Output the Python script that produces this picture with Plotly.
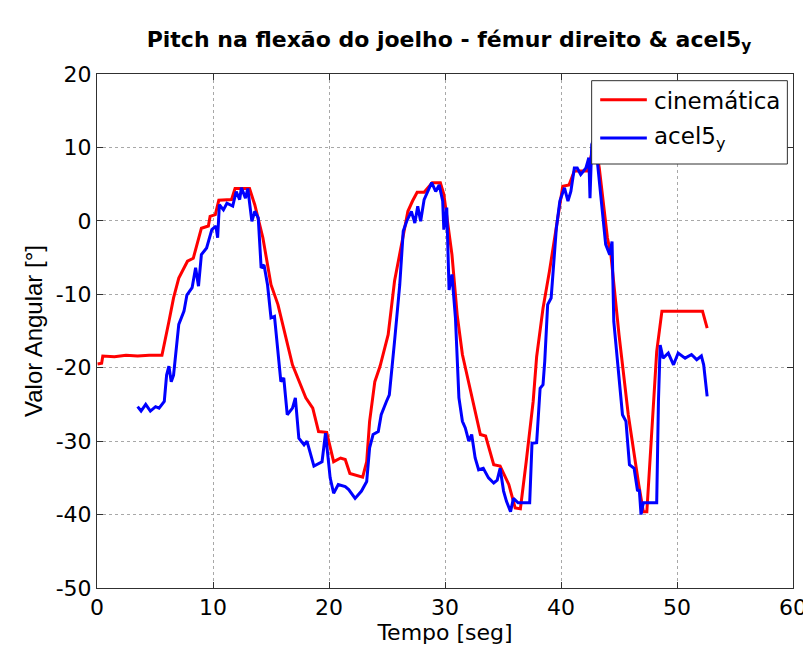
import plotly.graph_objects as go

# cinemática (red)
cin_t = [0.05, 0.4, 0.5, 1.5, 2.5, 3.5, 4.5, 5.6, 6.2, 6.6, 7.05, 7.6, 7.8, 8.3, 9.0, 9.6, 9.75,
         10.2, 10.5, 11.6, 11.9, 13.15, 13.6, 14.3, 15.0, 15.6, 16.4, 16.85, 18.0, 18.6, 19.1,
         19.8, 20.4, 21.0, 21.4, 21.8, 22.9, 23.25, 23.5, 23.95, 24.4, 25.1, 25.65, 26.1, 26.8,
         27.2, 27.6, 28.2, 28.9, 29.6, 29.9, 30.6, 31.05, 31.5, 32.8, 33.05, 33.5, 34.2, 34.75,
         35.5, 36.05, 36.5, 37.0, 37.6, 37.9, 38.45, 39.0, 39.6, 40.15, 40.7, 41.15, 42.3, 42.7,
         43.0, 43.3, 44.0, 44.3, 45.0, 45.8, 46.7, 47.1, 47.4, 47.8, 48.25, 48.7, 52.2, 52.6]
cin_v = [-19.5, -19.4, -18.4, -18.5, -18.3, -18.4, -18.3, -18.3, -13.7, -10.5, -7.8, -6.2, -5.5,
         -5.1, -1.0, -0.7, 0.6, 0.85, 2.8, 2.9, 4.4, 4.4, 2.2, -2.3, -8.7, -11.4, -16.4, -19.6,
         -24.1, -25.5, -28.7, -28.8, -32.8, -32.3, -32.5, -34.4, -34.9, -32.8, -27.3, -21.9,
         -19.8, -15.5, -8.2, -4.6, 1.3, 2.7, 3.9, 3.9, 5.2, 5.2, 3.6, -4.6, -12.8, -18.2, -27.3,
         -29.1, -29.3, -33.2, -33.4, -35.9, -39.1, -39.2, -32.8, -24.6, -18.5, -11.9, -6.9, -1.0,
         4.7, 4.9, 6.8, 6.8, 9.5, 10.0, 7.2, -2.3, -4.6, -15.5, -26.4, -35.9, -39.6, -39.6,
         -29.1, -17.8, -12.3, -12.3, -14.6]

# acel5_y (blue)
acel_t = [3.5, 3.8, 4.2, 4.6, 5.05, 5.35, 5.8, 6.0, 6.2, 6.4, 6.6, 7.05, 7.5, 7.75, 8.2, 8.5, 8.75,
          9.0, 9.45, 9.9, 10.25, 10.4, 10.55, 10.9, 11.2, 11.7, 12.0, 12.3, 12.45, 12.8, 13.0,
          13.35, 13.6, 13.9, 14.15, 14.4, 14.7, 15.0, 15.3, 15.85, 16.1, 16.4, 16.85, 17.1, 17.4,
          17.85, 18.1, 18.7, 19.4, 19.7, 20.1, 20.4, 20.8, 21.4, 21.7, 22.25, 22.8, 23.25, 23.5,
          23.8, 24.25, 24.5, 24.95, 25.2, 25.65, 26.1, 26.4, 26.7, 27.1, 27.4, 27.65, 27.9, 28.2,
          28.5, 28.85, 29.2, 29.5, 29.8, 29.9, 30.15, 30.35, 30.6, 30.9, 31.2, 31.5, 31.75, 32.05,
          32.3, 32.6, 32.9, 33.3, 33.75, 34.2, 34.5, 34.75, 35.05, 35.3, 35.65, 35.9, 36.3, 37.3,
          37.5, 37.9, 38.2, 38.45, 38.6, 38.85, 39.15, 39.6, 39.9, 40.3, 40.6, 40.85, 41.15, 41.4,
          41.7, 42.15, 42.4, 42.5, 42.65, 42.9, 43.1, 43.55, 43.85, 44.2, 44.4, 44.55, 45.0, 45.3,
          45.6, 45.9, 46.3, 46.6, 46.75, 46.9, 47.1, 48.25, 48.4, 48.55, 48.8, 49.25, 49.7, 50.1,
          50.7, 51.25, 51.7, 52.1, 52.3, 52.6]
acel_v = [-25.3, -25.9, -25.0, -25.9, -25.3, -25.5, -24.6, -21.0, -19.8, -21.9, -21.0, -14.1,
          -12.3, -10.1, -9.1, -6.4, -8.9, -4.6, -3.7, -1.2, -0.7, -2.3, 2.2, 1.5, 2.4, 2.0, 4.0,
          2.9, 4.5, 3.1, 4.4, -0.05, 1.3, 0.4, -6.4, -6.0, -8.7, -13.2, -13.0, -21.9, -21.4,
          -26.4, -25.5, -24.1, -29.6, -30.5, -30.0, -33.4, -32.8, -28.9, -35.0, -37.1, -35.9,
          -36.2, -36.6, -37.8, -36.8, -35.5, -30.9, -29.1, -28.7, -26.4, -24.6, -23.7, -16.4,
          -8.7, -1.4, -0.05, 1.3, -0.3, 2.0, -0.05, 2.9, 4.0, 5.2, 4.0, 4.9, 2.7, -1.2, 1.8,
          -9.4, -7.3, -13.2, -24.1, -27.3, -28.2, -30.0, -29.1, -32.3, -33.9, -33.7, -35.0,
          -35.7, -35.3, -33.7, -36.8, -38.2, -39.6, -37.8, -38.4, -38.4, -30.3, -30.2, -22.8,
          -22.3, -19.1, -11.4, -10.5, -1.0, 2.7, 4.5, 2.7, 4.0, 7.2, 7.2, 6.3, 7.2, 8.6, 3.1,
          10.4, 11.5, 8.6, 1.8, -3.2, -4.6, -2.8, -13.7, -21.4, -26.4, -27.3, -33.2, -33.7,
          -36.8, -36.6, -40.0, -38.4, -38.4, -24.6, -16.9, -18.7, -18.0, -19.6, -18.0, -18.7,
          -18.2, -18.9, -18.4, -19.6, -23.9]

# axis ticks (MATLAB-style hyphen minus)
y_ticks = [20, 10, 0, -10, -20, -30, -40, -50]
y_ticktext = ["20", "10", "0", "-10", "-20", "-30", "-40", "-50"]

FONT = "DejaVu Sans, Verdana, sans-serif"
FONT_ARIAL = "Liberation Sans, Arial, Helvetica, sans-serif"

fig = go.Figure()
fig.add_trace(go.Scatter(x=cin_t, y=cin_v, mode="lines", name="cinemática",
                         line=dict(color="#ff0000", width=3)))
fig.add_trace(go.Scatter(x=acel_t, y=acel_v, mode="lines", name="acel5<sub>y</sub>",
                         line=dict(color="#0000ff", width=3)))

axis_style = dict(
    showgrid=True, gridcolor="#a8a8a8", griddash="dot", gridwidth=1,
    showline=True, linecolor="#303030", linewidth=1, mirror="ticks",
    ticks="inside", ticklen=6, tickcolor="#303030",
    zeroline=False, tickfont=dict(size=22, color="black"),
)

# legend box drawn by hand (MATLAB style: long sample lines)
lx0, lx1, ly0, ly1 = 0.7107, 0.9919, 0.8249, 0.9870
shapes = [
    dict(type="rect", xref="paper", yref="paper", x0=lx0, x1=lx1, y0=ly0, y1=ly1,
         fillcolor="white", line=dict(color="#303030", width=1), layer="above"),
    dict(type="line", xref="paper", yref="paper", x0=0.723, x1=0.790, y0=0.950, y1=0.950,
         line=dict(color="#ff0000", width=3), layer="above"),
    dict(type="line", xref="paper", yref="paper", x0=0.723, x1=0.790, y0=0.8755, y1=0.8755,
         line=dict(color="#0000ff", width=3), layer="above"),
]
annotations = [
    dict(text="cinemática", xref="paper", yref="paper", x=0.797, y=0.948,
         xanchor="left", yanchor="middle", showarrow=False, font=dict(size=23)),
    dict(text="acel5<sub>y</sub>", xref="paper", yref="paper", x=0.797, y=0.8755,
         xanchor="left", yanchor="middle", showarrow=False, font=dict(size=23)),
]

fig.update_layout(
    width=811, height=645,
    margin=dict(l=89, r=18, t=66, b=65),
    paper_bgcolor="white", plot_bgcolor="white",
    font=dict(family=FONT, color="black"),
    showlegend=False,
    title=dict(text="<b>Pitch na flexão do joelho - fémur direito & acel5<sub>y</sub></b>",
               x=0.5438, xanchor="center", y=0.952, yanchor="middle",
               font=dict(size=22)),
    xaxis=dict(range=[0, 60], dtick=10,
               title=dict(text="Tempo [seg]", font=dict(size=22), standoff=0), **axis_style),
    yaxis=dict(range=[-50, 20], tickvals=y_ticks, ticktext=y_ticktext,
               title=dict(text="Valor Angular [°]", font=dict(size=24, family=FONT_ARIAL),
                          standoff=6), **axis_style),
    shapes=shapes,
    annotations=annotations,
)

fig.write_html("out.html")
